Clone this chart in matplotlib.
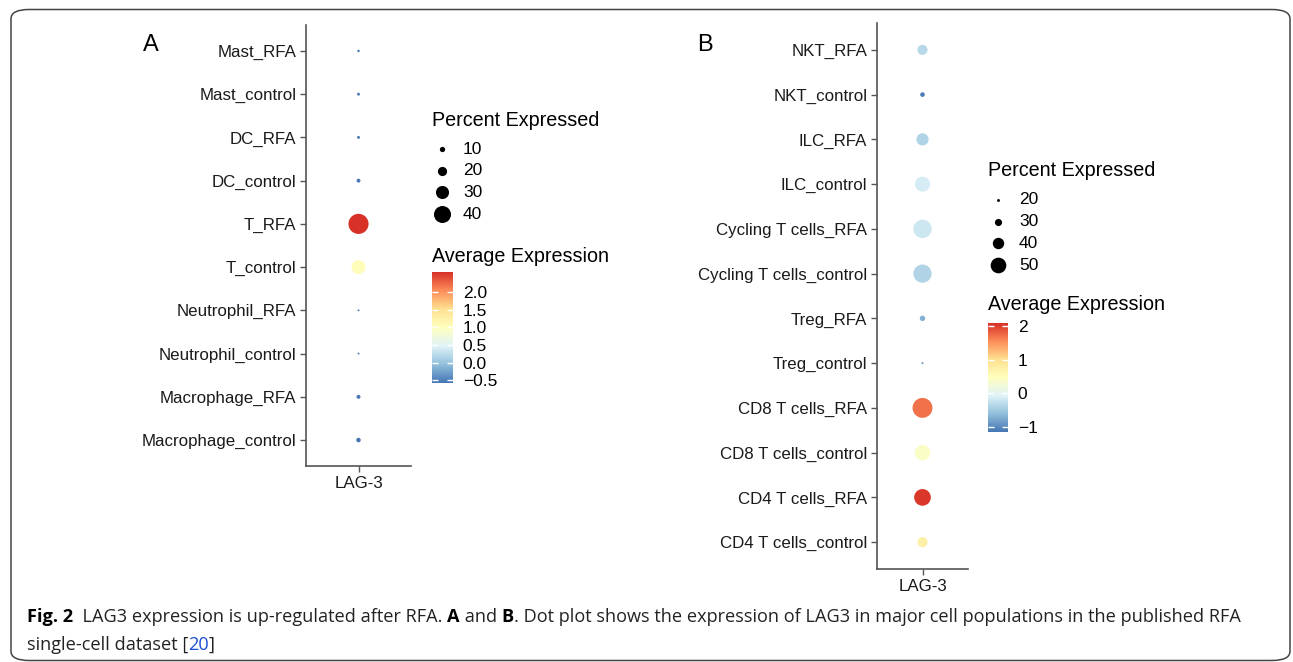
import numpy as np
import matplotlib
matplotlib.use("Agg")
import matplotlib.pyplot as plt
from matplotlib.colors import Normalize, LinearSegmentedColormap
from matplotlib.colorbar import ColorbarBase
from matplotlib.patches import FancyBboxPatch

# ---- data (top to bottom, as drawn) ----
cells_a = ["Mast_RFA", "Mast_control", "DC_RFA", "DC_control", "T_RFA",
           "T_control", "Neutrophil_RFA", "Neutrophil_control",
           "Macrophage_RFA", "Macrophage_control"]
pct_a = [2.8, 4, 4, 6.5, 48, 32, 1.5, 1.5, 6.5, 8]
avg_a = [-0.52, -0.52, -0.52, -0.55, 2.55, 1.05, -0.5, -0.5, -0.56, -0.56]
pct_breaks_a = [10, 20, 30, 40]
cbar_ticks_a = [-0.5, 0.0, 0.5, 1.0, 1.5, 2.0]
cbar_range_a = (-0.58, 2.57)

cells_b = ["NKT_RFA", "NKT_control", "ILC_RFA", "ILC_control",
           "Cycling T cells_RFA", "Cycling T cells_control", "Treg_RFA",
           "Treg_control", "CD8 T cells_RFA", "CD8 T cells_control",
           "CD4 T cells_RFA", "CD4 T cells_control"]
pct_b = [37, 24, 42, 48.5, 56.5, 56, 26, 18, 60, 49.5, 52.5, 37]
avg_b = [-0.35, -1.1, -0.4, -0.15, -0.2, -0.4, -0.7, -0.9, 1.7, 0.4, 2.05, 0.75]
pct_breaks_b = [20, 30, 40, 50]
cbar_ticks_b = [-1, 0, 1, 2]
cbar_range_b = (-1.15, 2.09)

gene = "LAG-3"

# brewer RdYlBu (7 classes), reversed: blue -> red
palette = ["#4575B4", "#91BFDB", "#E0F3F8", "#FFFFBF", "#FEE090", "#FC8D59", "#D73027"]

W, H = 1293, 662
plt.rcParams['font.family'] = ['Liberation Sans', 'DejaVu Sans']
fig = plt.figure(figsize=(W / 100, H / 100), dpi=100)
cmap = LinearSegmentedColormap.from_list("rdylbu7", palette)


def px_box(x0, y0, x1, y1):
    """pixel box (top-left origin) -> figure fraction rect"""
    return [x0 / W, 1 - y1 / H, (x1 - x0) / W, (y1 - y0) / H]


def size_a(p):
    d = 0.39 * np.asarray(p, float) + 1.4
    return (d * 0.72) ** 2


def size_b(p):
    d = np.clip(0.425 * np.asarray(p, float) - 5.6, 1.5, None)
    return (d * 0.72) ** 2


def dot_panel(box, cells, pct, avg, vrange, sizef):
    ax = fig.add_axes(px_box(*box))
    n = len(cells)
    ys = np.arange(n)[::-1]
    norm = Normalize(*vrange)
    ax.scatter(np.ones(n), ys, s=sizef(pct), c=avg, cmap=cmap, norm=norm,
               linewidths=0, zorder=3)
    ax.set_xlim(0.4, 1.6)
    ax.set_ylim(-0.6, n - 0.4)
    ax.set_yticks(ys)
    ax.set_yticklabels(cells, fontsize=12.2, color="#1a1a1a")
    ax.set_xticks([1])
    ax.set_xticklabels([gene], fontsize=12.2, color="#1a1a1a")
    for s in ["top", "right"]:
        ax.spines[s].set_visible(False)
    for s in ["left", "bottom"]:
        ax.spines[s].set_color("#555555")
        ax.spines[s].set_linewidth(1.2)
    ax.tick_params(length=4, width=1, color="#555555", pad=3)
    return ax


def legends(x, y_title1, breaks, sizef, y_first, step, y_title2, cbox,
            vrange, ticks, fmt):
    fig.text(x / W, 1 - y_title1 / H, "Percent Expressed", fontsize=14.2,
             va="center", ha="left")
    for i, b in enumerate(breaks):
        yy = y_first + i * step
        axd = fig.add_axes(px_box(x, yy - 10, x + 20, yy + 10))
        axd.set_axis_off()
        axd.set_xlim(0, 1)
        axd.set_ylim(0, 1)
        axd.scatter([0.5], [0.5], s=sizef([b]), c="black", linewidths=0)
        fig.text((x + 31) / W, 1 - yy / H, str(b), fontsize=12.5,
                 va="center", ha="left")
    fig.text(x / W, 1 - y_title2 / H, "Average Expression", fontsize=14.2,
             va="center", ha="left")
    cax = fig.add_axes(px_box(*cbox))
    cb = ColorbarBase(cax, cmap=cmap, norm=Normalize(*vrange),
                      orientation="vertical")
    cb.outline.set_visible(False)
    cb.set_ticks(ticks)
    cb.set_ticklabels([fmt.format(t).replace("-", "\u2212") for t in ticks])
    cax.tick_params(axis="y", direction="in", color="white", length=4,
                    width=1, left=True, right=True, labelleft=False,
                    labelright=True, labelsize=12.5, pad=7)


dot_panel((306, 25, 411, 466), cells_a, pct_a, avg_a, cbar_range_a, size_a)
legends(432, 120, pct_breaks_a, size_a, 149, 21.7, 256,
        (432, 272, 453, 383), cbar_range_a, cbar_ticks_a, "{:.1f}")

dot_panel((877, 23, 968, 569), cells_b, pct_b, avg_b, cbar_range_b, size_b)
legends(988, 171, pct_breaks_b, size_b, 200, 21.7, 305,
        (988, 323, 1008, 432), cbar_range_b, cbar_ticks_b, "{:d}")

fig.text(143 / W, 1 - 45 / H, "A", fontsize=17, va="center", ha="left")
fig.text(697 / W, 1 - 45 / H, "B", fontsize=17, va="center", ha="left")

# outer rounded frame
frame = FancyBboxPatch((11 / W, 1.5 / H), 1279 / W, 651 / H,
                       boxstyle="round,pad=0,rounding_size=0.014",
                       transform=fig.transFigure, fill=False,
                       edgecolor="#444444", linewidth=1.1)
fig.add_artist(frame)

# caption with mixed styles
cap_font = ['Open Sans', 'DejaVu Sans']
line1 = [("Fig. 2", "bold", "black"), ("  LAG3 expression is up-regulated after RFA. ", "normal", "#222222"),
         ("A", "bold", "black"), (" and ", "normal", "#222222"), ("B", "bold", "black"),
         (". Dot plot shows the expression of LAG3 in major cell populations in the published RFA",
          "normal", "#222222")]
line2 = [("single-cell dataset [", "normal", "#222222"), ("20", "normal", "#1a4fd6"),
         ("]", "normal", "#222222")]

renderer = fig.canvas.get_renderer()
for pieces, ypx in [(line1, 622), (line2, 650)]:
    xpx = 27
    for txt, wt, col in pieces:
        t = fig.text(xpx / W, 1 - ypx / H, txt, fontsize=13.1, family=cap_font,
                     fontweight=wt, color=col, va="baseline", ha="left")
        bb = t.get_window_extent(renderer)
        xpx += bb.width

fig.savefig("out.png", dpi=100)
